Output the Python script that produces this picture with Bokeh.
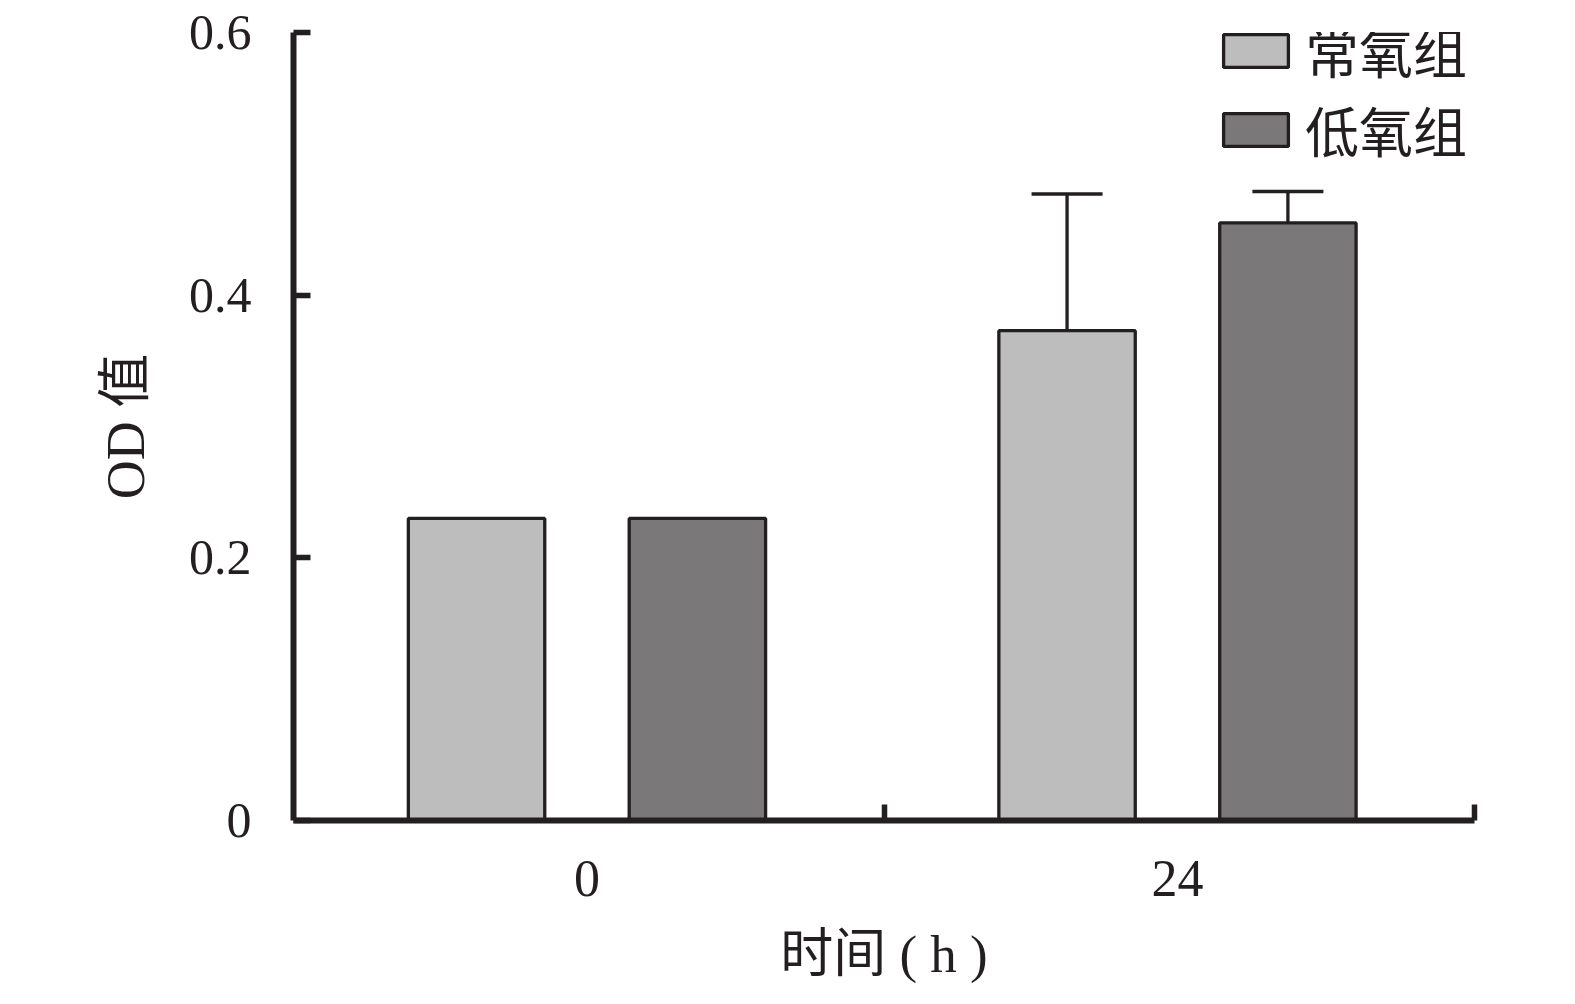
from bokeh.plotting import figure
from bokeh.models import Range1d, FixedTicker, Legend, LegendItem, ColumnDataSource, Whisker, TeeHead
from bokeh.embed import file_html
from bokeh.resources import INLINE

# ---- data ----
groups = ["0", "24"]
series = ["常氧组", "低氧组"]
normoxia = [0.230, 0.373]
hypoxia = [0.230, 0.455]
normoxia_err = [0.0, 0.104]
hypoxia_err = [0.0, 0.024]
y_ticks = [0, 0.2, 0.4, 0.6]
y_tick_labels = ["0", "0.2", "0.4", "0.6"]

# ---- style ----
LIGHT = "#bdbdbd"
DARK = "#7a7879"
INK = "#231f20"
SERIF = "Liberation Serif"
CJK = "Noto Sans CJK SC"
MIXED = f"'{SERIF}', '{CJK}'"
BAR_W = 0.231
OFFS = [-0.187, 0.187]
GC = 0.497

W, H = 1560, 995
p = figure(width=W, height=H, output_backend="svg", toolbar_location=None,
           x_range=Range1d(0, len(groups)), y_range=Range1d(0, 0.6),
           min_border_left=293, min_border_right=86, min_border_top=32, min_border_bottom=175)
p.outline_line_color = None
p.xgrid.visible = False
p.ygrid.visible = False
p.background_fill_color = "white"

centers = [i + GC for i in range(len(groups))]
vals = [normoxia, hypoxia]
errs = [normoxia_err, hypoxia_err]
colors = [LIGHT, DARK]
renderers = []
for k in range(2):
    xs = [c + OFFS[k] for c in centers]
    src = ColumnDataSource(dict(x=xs, top=vals[k]))
    r = p.vbar(x="x", top="top", width=BAR_W, bottom=0, source=src,
               fill_color=colors[k], line_color=INK, line_width=3.3)
    renderers.append(r)
    ex = [x for x, e in zip(xs, errs[k]) if e > 0]
    lo = [v for v, e in zip(vals[k], errs[k]) if e > 0]
    hi = [v + e for v, e in zip(vals[k], errs[k]) if e > 0]
    esrc = ColumnDataSource(dict(base=ex, lower=lo, upper=hi))
    wk = Whisker(base="base", lower="lower", upper="upper", source=esrc,
                 line_color=INK, line_width=3.3, lower_head=None,
                 upper_head=TeeHead(size=71, line_color=INK, line_width=3.5))
    p.add_layout(wk)

# y axis
ya = p.yaxis[0]
ya.ticker = FixedTicker(ticks=y_ticks)
ya.major_label_overrides = {t: l for t, l in zip(y_ticks, y_tick_labels)}
ya.major_tick_in = 17
ya.major_tick_out = 0
ya.minor_tick_line_color = None
ya.axis_line_width = 6
ya.major_tick_line_width = 5.5
ya.axis_line_color = INK
ya.major_tick_line_color = INK
ya.major_label_text_font = SERIF
ya.major_label_text_font_size = "50px"
ya.major_label_text_color = INK
ya.major_label_standoff = 42
ya.axis_label = "OD 值"
ya.axis_label_text_font = MIXED
ya.axis_label_text_font_size = "54px"
ya.axis_label_text_font_style = "normal"
ya.axis_label_text_color = INK
ya.axis_label_standoff = 30

# x axis
xa = p.xaxis[0]
xa.ticker = FixedTicker(ticks=centers, minor_ticks=[i + 1 for i in range(len(groups))])
xa.major_label_overrides = {c: g for c, g in zip(centers, groups)}
xa.major_tick_in = 0
xa.major_tick_out = 0
xa.major_tick_line_color = None
xa.minor_tick_in = 16
xa.minor_tick_out = 0
xa.minor_tick_line_width = 5.5
xa.minor_tick_line_color = INK
xa.axis_line_width = 6
xa.axis_line_color = INK
xa.major_label_text_font = SERIF
xa.major_label_text_font_size = "52px"
xa.major_label_text_color = INK
xa.major_label_standoff = 40
xa.axis_label = "时间 ( h )"
xa.axis_label_text_font = MIXED
xa.axis_label_text_font_size = "53px"
xa.axis_label_text_font_style = "normal"
xa.axis_label_text_color = INK
xa.axis_label_standoff = 26

legend = Legend(items=[LegendItem(label=s, renderers=[r]) for s, r in zip(series, renderers)],
                location=(922, 651), orientation="vertical",
                glyph_width=81, glyph_height=41, label_standoff=9, spacing=0,
                padding=0, margin=0, border_line_color=None, background_fill_alpha=0,
                label_text_font=CJK, label_text_font_size="54px", label_text_color=INK)
p.add_layout(legend)

open("out.html", "w").write(file_html(p, INLINE))
